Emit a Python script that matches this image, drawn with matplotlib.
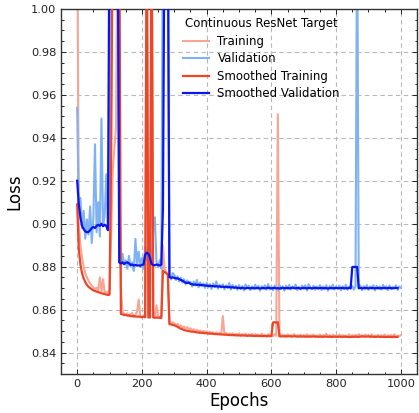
import numpy as np
import matplotlib
matplotlib.use("Agg")
import matplotlib.pyplot as plt
from matplotlib.ticker import MultipleLocator

# ---------------- data (sampled every 5 epochs) ----------------
epochs_raw = np.arange(0, 1001, 5)
epochs_smooth = np.arange(0, 991, 5)

train_raw = [
    1.0500, 0.9000, 0.8900, 0.8840, 0.8800, 0.8770, 0.8750, 0.8735, 0.8722, 0.8712,
    0.8703, 0.8697, 0.8702, 0.8688, 0.8750, 0.8684, 0.8742, 0.8678, 0.8683, 0.8676,
    0.8690, 0.8950, 0.9250, 0.9350, 0.9450, 1.0500, 0.9300, 0.8700, 0.8590, 0.8580,
    0.8576, 0.8582, 0.8569, 0.8578, 0.8584, 0.8565, 0.8575, 0.8590, 0.8647, 0.8568,
    0.8563, 0.8574, 0.8567, 1.0500, 0.8571, 0.8562, 1.0500, 0.8573, 0.8566, 0.8620,
    0.8569, 0.8561, 0.8574, 0.8900, 0.8790, 0.8775, 0.8768, 0.8545, 0.8538, 0.8541,
    0.8536, 0.8529, 0.8533, 0.8522, 0.8527, 0.8515, 0.8521, 0.8512, 0.8518, 0.8508,
    0.8513, 0.8502, 0.8509, 0.8497, 0.8506, 0.8499, 0.8503, 0.8494, 0.8501, 0.8495,
    0.8499, 0.8489, 0.8497, 0.8491, 0.8495, 0.8486, 0.8494, 0.8488, 0.8492, 0.8485,
    0.8570, 0.8487, 0.8491, 0.8482, 0.8489, 0.8484, 0.8490, 0.8481, 0.8487, 0.8483,
    0.8489, 0.8478, 0.8486, 0.8481, 0.8488, 0.8477, 0.8485, 0.8480, 0.8487, 0.8476,
    0.8486, 0.8479, 0.8484, 0.8476, 0.8488, 0.8478, 0.8483, 0.8475, 0.8486, 0.8479,
    0.8483, 0.8476, 0.8485, 0.8478, 0.9510, 0.8475, 0.8484, 0.8477, 0.8483, 0.8474,
    0.8485, 0.8477, 0.8482, 0.8474, 0.8486, 0.8478, 0.8481, 0.8473, 0.8484, 0.8476,
    0.8482, 0.8475, 0.8485, 0.8472, 0.8481, 0.8477, 0.8484, 0.8473, 0.8480, 0.8476,
    0.8484, 0.8471, 0.8482, 0.8476, 0.8487, 0.8474, 0.8481, 0.8472, 0.8483, 0.8477,
    0.8480, 0.8473, 0.8484, 0.8471, 0.8482, 0.8476, 0.8479, 0.8472, 0.8485, 0.8474,
    0.8481, 0.8475, 0.8483, 0.8472, 0.8486, 0.8477, 0.8480, 0.8473, 0.8484, 0.8476,
    0.8482, 0.8471, 0.8485, 0.8474, 0.8479, 0.8476, 0.8483, 0.8472, 0.8481, 0.8475,
    0.8484, 0.8473, 0.8480, 0.8477, 0.8482, 0.8471, 0.8485, 0.8474, 0.8479, 0.8476,
    0.8481,
]

val_raw = [
    0.9540, 0.9080, 0.9120, 0.8980, 0.9060, 0.8930, 0.9020, 0.8950, 0.9080, 0.8910,
    0.9030, 0.9370, 0.8960, 0.9100, 0.8940, 0.9490, 0.8990, 0.9040, 0.9230, 0.8970,
    0.9080, 1.0500, 1.0500, 1.0500, 1.0500, 1.0500, 0.8840, 0.8790, 0.8860, 0.8810,
    0.8830, 0.8790, 0.8850, 0.8800, 0.8820, 0.8780, 0.8930, 0.8810, 0.8870, 0.8800,
    0.8840, 0.8790, 0.8890, 0.8830, 0.8950, 0.8860, 0.8840, 0.8970, 0.9030, 0.8820,
    0.8800, 0.8830, 0.8790, 1.0500, 1.0500, 1.0500, 1.0500, 0.8760, 0.8740, 0.8770,
    0.8762, 0.8738, 0.8755, 0.8731, 0.8749, 0.8726, 0.8741, 0.8718, 0.8736, 0.8722,
    0.8729, 0.8707, 0.8731, 0.8712, 0.8738, 0.8704, 0.8726, 0.8709, 0.8722, 0.8701,
    0.8725, 0.8703, 0.8719, 0.8696, 0.8722, 0.8705, 0.8731, 0.8697, 0.8716, 0.8702,
    0.8718, 0.8694, 0.8713, 0.8702, 0.8724, 0.8693, 0.8715, 0.8699, 0.8711, 0.8692,
    0.8714, 0.8696, 0.8709, 0.8689, 0.8717, 0.8701, 0.8712, 0.8691, 0.8708, 0.8695,
    0.8716, 0.8698, 0.8711, 0.8688, 0.8709, 0.8697, 0.8713, 0.8692, 0.8719, 0.8694,
    0.8707, 0.8689, 0.8712, 0.8698, 0.8691, 0.8714, 0.8695, 0.8709, 0.8688, 0.8711,
    0.8696, 0.8715, 0.8693, 0.8708, 0.8699, 0.8717, 0.8691, 0.8706, 0.8694, 0.8712,
    0.8697, 0.8713, 0.8689, 0.8718, 0.8702, 0.8695, 0.8711, 0.8692, 0.8707, 0.8699,
    0.8714, 0.8691, 0.8708, 0.8696, 0.8713, 0.8688, 0.8709, 0.8697, 0.8716, 0.8693,
    0.8706, 0.8698, 0.8712, 0.8689, 0.8709, 0.8695, 0.8715, 0.8692, 0.8707, 0.8696,
    0.8711, 0.8693, 0.8708, 1.0500, 0.8697, 0.8712, 0.8690, 0.8709, 0.8695, 0.8714,
    0.8692, 0.8708, 0.8697, 0.8713, 0.8689, 0.8711, 0.8696, 0.8707, 0.8693, 0.8715,
    0.8698, 0.8709, 0.8691, 0.8712, 0.8695, 0.8706, 0.8699, 0.8713, 0.8692, 0.8708,
    0.8701,
]

train_smooth = [
    0.9090, 0.8880, 0.8810, 0.8770, 0.8745, 0.8728, 0.8715, 0.8706, 0.8700, 0.8695,
    0.8690, 0.8687, 0.8684, 0.8681, 0.8679, 0.8676, 0.8674, 0.8672, 0.8670, 0.8668,
    0.8670, 0.9320, 1.0500, 1.0500, 1.0500, 1.0500, 1.0500, 0.8580, 0.8578, 0.8575,
    0.8575, 0.8572, 0.8573, 0.8570, 0.8569, 0.8570, 0.8568, 0.8567, 0.8568, 0.8566,
    0.8565, 0.8567, 0.8564, 1.0500, 0.8563, 0.8565, 1.0500, 0.8563, 0.8562, 0.8563,
    0.8562, 0.8563, 0.8561, 0.8780, 0.8775, 0.8770, 0.8762, 0.8532, 0.8531, 0.8529,
    0.8527, 0.8524, 0.8520, 0.8515, 0.8511, 0.8508, 0.8505, 0.8503, 0.8501, 0.8500,
    0.8498, 0.8497, 0.8497, 0.8495, 0.8494, 0.8493, 0.8492, 0.8492, 0.8491, 0.8490,
    0.8490, 0.8489, 0.8488, 0.8488, 0.8487, 0.8486, 0.8486, 0.8485, 0.8485, 0.8484,
    0.8484, 0.8483, 0.8483, 0.8482, 0.8482, 0.8481, 0.8481, 0.8481, 0.8480, 0.8480,
    0.8480, 0.8479, 0.8480, 0.8479, 0.8479, 0.8478, 0.8479, 0.8478, 0.8478, 0.8478,
    0.8477, 0.8478, 0.8477, 0.8477, 0.8477, 0.8476, 0.8477, 0.8476, 0.8477, 0.8476,
    0.8476, 0.8540, 0.8541, 0.8540, 0.8541, 0.8476, 0.8475, 0.8476, 0.8475, 0.8476,
    0.8475, 0.8476, 0.8475, 0.8475, 0.8476, 0.8475, 0.8474, 0.8475, 0.8475, 0.8474,
    0.8475, 0.8474, 0.8474, 0.8475, 0.8474, 0.8474, 0.8475, 0.8474, 0.8474, 0.8473,
    0.8474, 0.8474, 0.8473, 0.8474, 0.8474, 0.8473, 0.8474, 0.8473, 0.8473, 0.8474,
    0.8473, 0.8473, 0.8474, 0.8473, 0.8473, 0.8474, 0.8473, 0.8473, 0.8472, 0.8473,
    0.8473, 0.8473, 0.8474, 0.8473, 0.8473, 0.8474, 0.8475, 0.8475, 0.8474, 0.8474,
    0.8475, 0.8474, 0.8474, 0.8473, 0.8473, 0.8473, 0.8474, 0.8473, 0.8473, 0.8473,
    0.8473, 0.8472, 0.8473, 0.8473, 0.8472, 0.8473, 0.8473, 0.8472, 0.8473,
]

val_smooth = [
    0.9200, 0.9090, 0.9030, 0.8990, 0.8975, 0.8965, 0.8960, 0.8962, 0.8970, 0.8980,
    0.8985, 0.8980, 0.8990, 0.8995, 0.8990, 0.9000, 0.8988, 0.8995, 0.8990, 0.8970,
    1.0500, 1.0500, 1.0500, 1.0500, 1.0500, 1.0500, 0.8820, 0.8815, 0.8820, 0.8812,
    0.8818, 0.8820, 0.8815, 0.8808, 0.8810, 0.8805, 0.8808, 0.8805, 0.8806, 0.8804,
    0.8808, 0.8810, 0.8855, 0.8865, 0.8860, 0.8842, 0.8812, 0.8808, 0.8806, 0.8810,
    0.8808, 0.8805, 0.8810, 0.9070, 1.0500, 1.0500, 1.0500, 0.8752, 0.8748, 0.8750,
    0.8748, 0.8745, 0.8746, 0.8742, 0.8738, 0.8735, 0.8730, 0.8725, 0.8724, 0.8726,
    0.8720, 0.8718, 0.8716, 0.8717, 0.8715, 0.8716, 0.8714, 0.8715, 0.8713, 0.8712,
    0.8712, 0.8710, 0.8711, 0.8709, 0.8710, 0.8708, 0.8709, 0.8707, 0.8708, 0.8706,
    0.8707, 0.8705, 0.8706, 0.8704, 0.8705, 0.8703, 0.8704, 0.8702, 0.8703, 0.8701,
    0.8701, 0.8699, 0.8702, 0.8700, 0.8698, 0.8701, 0.8700, 0.8699, 0.8701, 0.8700,
    0.8699, 0.8701, 0.8700, 0.8698, 0.8700, 0.8701, 0.8699, 0.8700, 0.8702, 0.8700,
    0.8699, 0.8700, 0.8701, 0.8699, 0.8700, 0.8698, 0.8700, 0.8701, 0.8699, 0.8700,
    0.8701, 0.8699, 0.8700, 0.8702, 0.8700, 0.8699, 0.8701, 0.8700, 0.8698, 0.8700,
    0.8701, 0.8700, 0.8699, 0.8700, 0.8701, 0.8699, 0.8700, 0.8702, 0.8700, 0.8699,
    0.8700, 0.8701, 0.8699, 0.8700, 0.8700, 0.8698, 0.8700, 0.8701, 0.8699, 0.8700,
    0.8701, 0.8699, 0.8700, 0.8700, 0.8701, 0.8699, 0.8700, 0.8699, 0.8701, 0.8700,
    0.8798, 0.8799, 0.8798, 0.8799, 0.8700, 0.8701, 0.8699, 0.8700, 0.8701, 0.8700,
    0.8699, 0.8700, 0.8701, 0.8700, 0.8699, 0.8700, 0.8701, 0.8699, 0.8700, 0.8700,
    0.8701, 0.8699, 0.8700, 0.8701, 0.8700, 0.8699, 0.8700, 0.8701, 0.8700,
]

legend_title = "Continuous ResNet Target"
labels = ["Training", "Validation", "Smoothed Training", "Smoothed Validation"]
colors = ["#f6a694", "#7fb2f4", "#ec4527", "#0a14ee"]

# ---------------- figure ----------------
plt.rcParams["font.family"] = ["DejaVu Sans"]
fig = plt.figure(figsize=(4.19, 4.13), dpi=100)
ax = fig.add_axes([61 / 419, 1 - 374 / 413, 356 / 419, 365 / 413])

ax.plot(epochs_raw, train_raw, color=colors[0], lw=1.5, label=labels[0], zorder=2)
ax.plot(epochs_raw, val_raw, color=colors[1], lw=1.5, label=labels[1], zorder=2)
ax.plot(epochs_smooth, train_smooth, color=colors[2], lw=1.6, label=labels[2], zorder=3)
ax.plot(epochs_smooth, val_smooth, color=colors[3], lw=1.6, label=labels[3], zorder=3)

ax.set_xlim(-50, 1050)
ax.set_ylim(0.83, 1.00)
ax.xaxis.set_major_locator(MultipleLocator(200))
ax.xaxis.set_minor_locator(MultipleLocator(50))
ax.yaxis.set_major_locator(MultipleLocator(0.02))
ax.yaxis.set_minor_locator(MultipleLocator(0.005))
ax.yaxis.set_major_formatter(matplotlib.ticker.FormatStrFormatter("%.2f"))

ax.tick_params(which="both", direction="in", top=True, right=True, labelsize=8.2,
               colors="#222222", width=0.7)
ax.tick_params(which="major", length=3.5)
ax.tick_params(which="minor", length=1.8)
for s in ax.spines.values():
    s.set_linewidth(1.0)
    s.set_color("#333333")

ax.grid(True, which="major", linestyle=(0, (4, 3)), color="#b8b8b8", linewidth=0.8)
ax.set_axisbelow(True)

ax.set_xlabel("Epochs", fontsize=12, labelpad=2)
ax.set_ylabel("Loss", fontsize=12, labelpad=5)

leg = ax.legend(title=legend_title, loc="upper left", bbox_to_anchor=(0.33, 0.99),
                borderaxespad=0, frameon=False, fontsize=8.5, title_fontsize=8.5,
                handlelength=2.2, labelspacing=0.38, handletextpad=0.7)

fig.savefig("out.png", dpi=100)
